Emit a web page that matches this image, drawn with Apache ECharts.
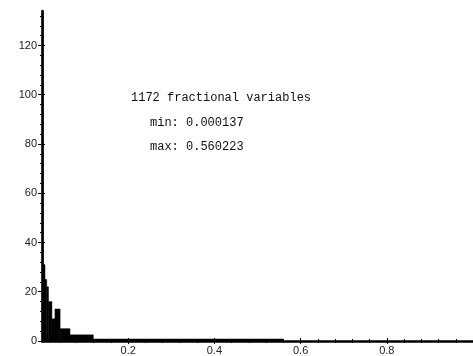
<!DOCTYPE html>
<html><head><meta charset="utf-8">
<script src="https://cdn.jsdelivr.net/npm/echarts@6/dist/echarts.min.js"></script>
<style>html,body{margin:0;padding:0;background:#fff}#c{width:473px;height:356px}</style>
</head><body><div id="c"></div>
<script>
// Histogram bins (x range of each bar) and bar heights
const binStart = [0, 0.003, 0.007, 0.011, 0.015, 0.023, 0.030, 0.042, 0.065, 0.119];
const binEnd   = [0.003, 0.007, 0.011, 0.015, 0.023, 0.030, 0.042, 0.065, 0.119, 0.560];
const heights  = [134, 31, 25, 22, 16, 9, 13, 5, 2.5, 0.8];
const xTickValues = [0.2, 0.4, 0.6, 0.8];
const yTickValues = [0, 20, 40, 60, 80, 100, 120];
const annotations = ['1172 fractional variables', 'min: 0.000137', 'max: 0.560223'];

const data = binStart.map((s, i) => [s, binEnd[i], heights[i]]);
const chart = echarts.init(document.getElementById('c'), null, {renderer: 'canvas'});
const labelFont = {fontFamily: 'Liberation Sans', fontSize: 11, color: '#222'};
const lineStyle = {color: '#000', width: 2.5};
const tickStyle = {color: '#000', width: 1};

const xBase = {
  type: 'value', min: 0, max: 1, interval: 0.2, position: 'bottom', offset: 0,
  splitLine: {show: false}
};
const yBase = {
  type: 'value', min: 0, max: 134, interval: 20, position: 'left', offset: 0,
  splitLine: {show: false}
};

chart.setOption({
  animation: false,
  backgroundColor: '#fff',
  grid: {left: 42, right: 0, top: 11, bottom: 11},
  xAxis: [
    Object.assign({}, xBase, {
      axisLine: {show: true, onZero: false, lineStyle},
      axisTick: {show: true, inside: false, length: 3, customValues: xTickValues, lineStyle: tickStyle},
      minorTick: {show: true, splitNumber: 5, length: 2, lineStyle: tickStyle},
      axisLabel: Object.assign({show: true, margin: 4, customValues: xTickValues}, labelFont)
    }),
    Object.assign({}, xBase, {
      axisLine: {show: false},
      axisTick: {show: true, inside: true, length: 3, customValues: xTickValues, lineStyle: tickStyle},
      minorTick: {show: true, splitNumber: 5, length: 2, lineStyle: tickStyle},
      axisLabel: {show: false}
    })
  ],
  yAxis: [
    Object.assign({}, yBase, {
      axisLine: {show: true, onZero: false, lineStyle},
      axisTick: {show: true, inside: false, length: 4, customValues: yTickValues, lineStyle: tickStyle},
      minorTick: {show: true, splitNumber: 5, length: 2, lineStyle: tickStyle},
      axisLabel: Object.assign({show: true, margin: 5, customValues: yTickValues,
        verticalAlign: 'middle'}, labelFont)
    }),
    Object.assign({}, yBase, {
      axisLine: {show: false},
      axisTick: {show: true, inside: true, length: 3, customValues: yTickValues, lineStyle: tickStyle},
      minorTick: {show: true, splitNumber: 5, length: 2, lineStyle: tickStyle},
      axisLabel: {show: false}
    })
  ],
  series: [{
    type: 'custom',
    xAxisIndex: 0, yAxisIndex: 0,
    data: data,
    encode: {x: [0, 1], y: 2},
    renderItem: function (params, api) {
      const p0 = api.coord([api.value(0), 0]);
      const p1 = api.coord([api.value(1), api.value(2)]);
      return {
        type: 'rect',
        shape: {x: p0[0], y: p1[1], width: p1[0] - p0[0], height: p0[1] - p1[1]},
        style: {fill: '#000', stroke: '#000', lineWidth: 0.5}
      };
    }
  }],
  graphic: [
    {type: 'text', left: 131, top: 92, style: {text: annotations[0], font: '12px "Liberation Mono"', fill: '#111'}},
    {type: 'text', left: 150, top: 117, style: {text: annotations[1], font: '12px "Liberation Mono"', fill: '#111'}},
    {type: 'text', left: 150, top: 141, style: {text: annotations[2], font: '12px "Liberation Mono"', fill: '#111'}}
  ]
});
</script></body></html>
